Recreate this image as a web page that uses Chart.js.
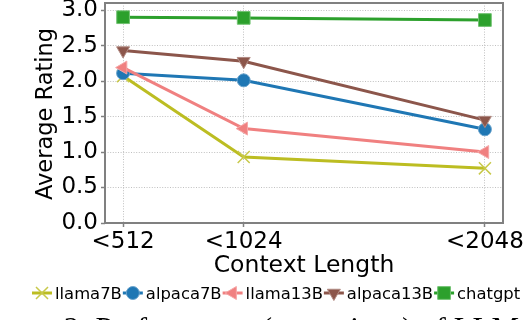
<!DOCTYPE html>
<html><head><meta charset="utf-8">
<script src="https://cdn.jsdelivr.net/npm/chart.js@4/dist/chart.umd.min.js"></script>
<style>html,body{margin:0;padding:0;background:#fff;overflow:hidden}#wrap{width:524px;height:320px;position:relative}canvas{display:block}</style>
</head><body><div id="wrap"><canvas id="c" width="524" height="320"></canvas></div>
<script>
// ---- data ----
const CONTEXT_LENGTHS = [512, 1024, 2048];
const X_TICK_LABELS = ['<512', '<1024', '<2048'];
const Y_TICKS = [0, 0.5, 1.0, 1.5, 2.0, 2.5, 3.0];
const SERIES_NAMES = ['llama7B', 'alpaca7B', 'llama13B', 'alpaca13B', 'chatgpt'];
const llama7B   = [2.07, 0.93, 0.77];
const alpaca7B  = [2.11, 2.01, 1.32];
const llama13B  = [2.19, 1.33, 1.00];
const alpaca13B = [2.43, 2.28, 1.45];
const chatgpt   = [2.90, 2.89, 2.86];
const SERIES = [llama7B, alpaca7B, llama13B, alpaca13B, chatgpt];
const X_TITLE = 'Context Length';
const Y_TITLE = 'Average Rating';
const CAPTION = 'Figure 2: Performance (on various) of LLMs';

// ---- styles ----
const COLORS = ['#bcbd22', '#1f77b4', '#f08080', '#8c564b', '#2ca02c'];
const EDGES  = ['#c8c94a', '#6aa3cc', '#f5a8a8', '#b08a82', '#72c272'];
const STYLES = ['crossRot', 'circle', 'triangle', 'triangle', 'rect'];
const ROTS   = [0, 0, -90, 180, 0];
const RADII  = [8.5, 6.5, 7.5, 7.5, 9];
const EDGEW  = [1.5, 1, 1, 1, 1];
const FONT = '"DejaVu Sans", sans-serif';

const datasets = SERIES.map((vals, i) => ({
  label: SERIES_NAMES[i],
  data: CONTEXT_LENGTHS.map((x, j) => ({x: x, y: vals[j]})),
  borderColor: COLORS[i],
  backgroundColor: COLORS[i],
  borderWidth: 3,
  pointStyle: STYLES[i],
  pointRotation: ROTS[i],
  pointRadius: RADII[i],
  pointHoverRadius: RADII[i],
  pointBackgroundColor: COLORS[i],
  pointBorderColor: EDGES[i],
  pointBorderWidth: EDGEW[i],
  tension: 0,
  order: SERIES.length - i
}));

const decorPlugin = {
  id: 'decor',
  afterDatasetsDraw(chart) {
    const ctx = chart.ctx, a = chart.chartArea;
    ctx.save();
    ctx.strokeStyle = '#808080';
    ctx.lineWidth = 2;
    ctx.strokeRect(a.left, a.top, a.right - a.left, a.bottom - a.top);
    ctx.restore();
  },
  afterDraw(chart) {
    const ctx = chart.ctx, a = chart.chartArea;
    ctx.save();
    ctx.fillStyle = '#000';
    // x title
    ctx.font = '23.5px ' + FONT;
    ctx.textAlign = 'center';
    ctx.textBaseline = 'alphabetic';
    ctx.fillText(X_TITLE, (a.left + a.right) / 2, 272);
    // y title
    ctx.save();
    ctx.translate(52, (a.top + a.bottom) / 2 + 1);
    ctx.rotate(-Math.PI / 2);
    ctx.font = '22.5px ' + FONT;
    ctx.fillText(Y_TITLE, 0, 0);
    ctx.restore();
    // legend
    ctx.font = '16.4px ' + FONT;
    ctx.textAlign = 'left';
    let x = 32; const ly = 293;
    chart.data.datasets.forEach((ds) => {
      ctx.strokeStyle = ds.borderColor;
      ctx.lineWidth = 3;
      ctx.beginPath(); ctx.moveTo(x, ly); ctx.lineTo(x + 20, ly); ctx.stroke();
      ctx.fillStyle = ds.pointBackgroundColor;
      ctx.strokeStyle = ds.pointBorderColor;
      ctx.lineWidth = ds.pointBorderWidth;
      Chart.helpers.drawPoint(ctx, {pointStyle: ds.pointStyle, rotation: ds.pointRotation, radius: ds.pointRadius, borderWidth: ds.pointBorderWidth}, x + 10, ly);
      ctx.fillStyle = '#000';
      ctx.fillText(ds.label, x + 23, 298.5);
      x += 23 + ctx.measureText(ds.label).width + 1;
    });
    // caption (clipped at the bottom edge)
    ctx.font = '31px "Liberation Serif", serif';
    ctx.fillStyle = '#000';
    ctx.fillText(CAPTION, -25, 339);
    ctx.restore();
  }
};

new Chart(document.getElementById('c'), {
  type: 'line',
  data: {datasets: datasets},
  options: {
    responsive: false,
    maintainAspectRatio: false,
    animation: false,
    events: [],
    layout: {autoPadding: false, padding: {left: 0, right: 21, top: 3, bottom: 0}},
    plugins: {legend: {display: false}, tooltip: {enabled: false}, title: {display: false}},
    scales: {
      x: {
        type: 'linear', min: 435.2, max: 2124.8,
        afterBuildTicks: s => { s.ticks = CONTEXT_LENGTHS.map(v => ({value: v})); },
        afterFit: s => { s.height = 97; s.paddingLeft = 0; s.paddingRight = 0; },
        ticks: {
          callback: (v, i) => X_TICK_LABELS[i],
          font: {family: 'DejaVu Sans', size: 23}, color: '#000',
          padding: 1, maxRotation: 0, autoSkip: false
        },
        grid: {color: '#b0b0b0', lineWidth: 0.8, tickColor: '#808080', tickLength: 4, tickWidth: 1.5},
        border: {display: false, dash: [1, 1.6]}
      },
      y: {
        type: 'linear', min: 0, max: 3.1,
        afterBuildTicks: s => { s.ticks = Y_TICKS.map(v => ({value: v})); },
        afterFit: s => { s.width = 105; s.paddingTop = 0; s.paddingBottom = 0; },
        ticks: {
          callback: v => Number(v).toFixed(1),
          font: {family: 'DejaVu Sans', size: 23}, color: '#000', padding: 3
        },
        grid: {color: '#b0b0b0', lineWidth: 0.8, tickColor: '#808080', tickLength: 4, tickWidth: 1.5},
        border: {display: false, dash: [1, 1.6]}
      }
    }
  },
  plugins: [decorPlugin]
});
</script>
</body></html>
